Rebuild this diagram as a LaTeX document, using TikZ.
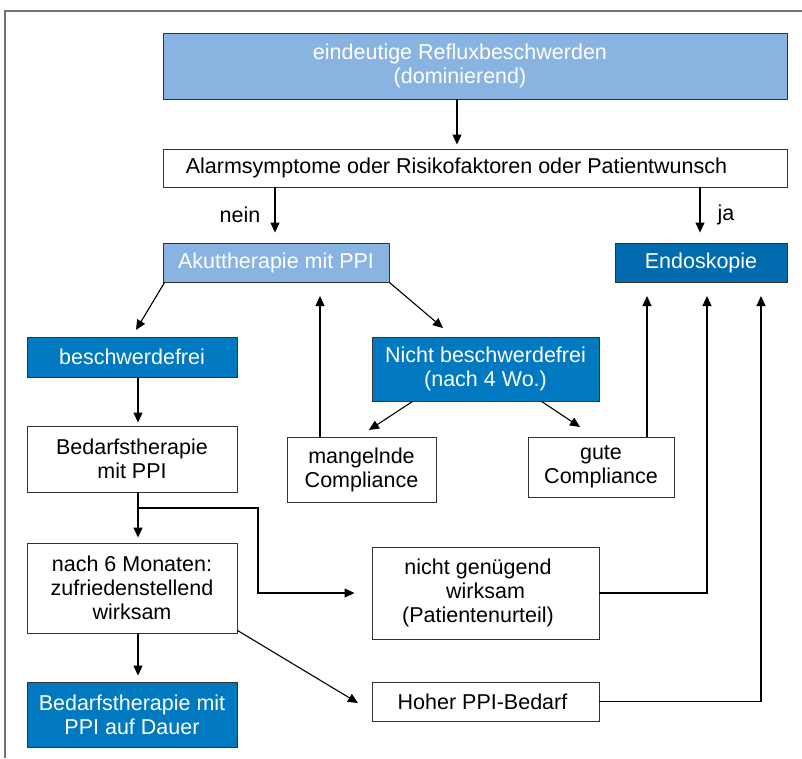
\documentclass[tikz,border=0pt]{standalone}
\usepackage{fontspec}
\setmainfont{Liberation Sans}
\usetikzlibrary{arrows.meta,calc}
\definecolor{lightb}{HTML}{89B4E1}
\definecolor{midb}{HTML}{0079C1}
\definecolor{darkb}{HTML}{006BAE}
\begin{document}
\begin{tikzpicture}[x=1pt,y=-1pt,
  box/.style={draw=black!80, line width=0.9pt, align=center, inner sep=0pt, font=\fontsize{21.5}{24}\selectfont},
  wbox/.style={box, fill=white, text=black},
  lbox/.style={box, fill=lightb, text=white},
  dbox/.style={box, fill=midb, text=white},
  ebox/.style={box, fill=darkb, text=white},
  arr/.style={line width=1.1pt, -{Triangle[length=10pt,width=9pt]}},
  lbl/.style={font=\fontsize{21.5}{24}\selectfont, inner sep=0pt}]
\useasboundingbox (0,0) rectangle (802,758);
\draw[black!55, line width=1.5pt] (5,758) -- (5,11) -- (802,11);

\node[lbox, minimum width=624pt, minimum height=66pt] (top) at (475,66) {eindeutige Refluxbeschwerden\hspace*{30pt}\\(dominierend)\hspace*{30pt}};
\node[wbox, minimum width=624pt, minimum height=38pt] (alarm) at (475,168) {Alarmsymptome oder Risikofaktoren oder Patientwunsch\hspace*{37pt}};
\node[lbox, minimum width=226pt, minimum height=39pt] (akut) at (276,262.5) {Akuttherapie mit PPI};
\node[ebox, minimum width=172pt, minimum height=39pt] (endo) at (701,262.5) {Endoskopie};
\node[dbox, minimum width=210pt, minimum height=40pt] (besch) at (132,357) {beschwerdefrei};
\node[dbox, minimum width=227pt, minimum height=64pt] (nichtb) at (485.5,369) {Nicht beschwerdefrei\\(nach 4 Wo.)};
\node[wbox, minimum width=210pt, minimum height=66pt] (bedarf) at (132,459) {Bedarfstherapie\\mit PPI};
\node[wbox, minimum width=149pt, minimum height=65pt] (mangel) at (361.5,469.5) {mangelnde\\Compliance};
\node[wbox, minimum width=146pt, minimum height=60pt] (gute) at (601,467) {gute\\Compliance};
\node[wbox, minimum width=210pt, minimum height=90pt] (nach6) at (132,588) {nach 6 Monaten:\\zufriedenstellend\\wirksam};
\node[wbox, minimum width=227pt, minimum height=92pt] (nichtg) at (485.5,593) {nicht genügend\hspace*{15pt}\\wirksam\hspace*{15pt}\\(Patientenurteil)\hspace*{15pt}};
\node[dbox, minimum width=210pt, minimum height=65pt] (dauer) at (132,714.5) {Bedarfstherapie mit\\PPI auf Dauer};
\node[wbox, minimum width=227pt, minimum height=39pt] (hoher) at (485.5,701.5) {Hoher PPI-Bedarf\hspace*{6pt}};

\node[lbl] (nein) at (240,215) {nein};
\node[lbl] (ja) at (726,215) {ja};

\coordinate (tA) at (457,0);
\coordinate (xN) at (275,0);
\coordinate (xJ) at (700,0);
\coordinate (xL) at (138,0);
\coordinate (t1) at (136,330);
\coordinate (t2) at (443,328);
\coordinate (t3) at (369,430);
\coordinate (t4) at (580,427);
\coordinate (t5) at (358,703);
\coordinate (m1) at (320,296);
\coordinate (g1) at (647,296);
\coordinate (g2) at (707,296);
\coordinate (g3) at (761,296);
\coordinate (br) at (138,508);
\coordinate (bk) at (258,508);

\draw[arr, shorten >=4pt] (top.south -| tA) -- (alarm.north -| tA);
\draw[arr, shorten >=10pt] (alarm.south -| xN) -- (akut.north -| xN);
\draw[arr, shorten >=10pt] (alarm.south -| xJ) -- (endo.north -| xJ);
\draw[arr] ($(akut.south west)+(2,0)$) -- (t1);
\draw[arr] (akut.south east) -- (t2);
\draw[arr] (mangel.north -| m1) -- (m1);
\draw[arr] ($(nichtb.south west)+(41,0)$) -- (t3);
\draw[arr] ($(nichtb.south west)+(170,0)$) -- (t4);
\draw[arr] (gute.north -| g1) -- (g1);
\draw[arr] (nichtg.east) -| (g2);
\draw[arr] (hoher.east) -| (g3);
\draw[arr, shorten >=3pt] (besch.south -| xL) -- (bedarf.north -| xL);
\draw[arr, shorten >=5pt] (bedarf.south -| xL) -- (nach6.north -| xL);
\draw[arr, shorten >=6pt] (nach6.south -| xL) -- (dauer.north -| xL);
\draw[arr, shorten >=17pt] (br) -- (bk) |- (nichtg.west);
\draw[arr] ($(nach6.south east)+(0,-3)$) -- (t5);
\end{tikzpicture}
\end{document}
